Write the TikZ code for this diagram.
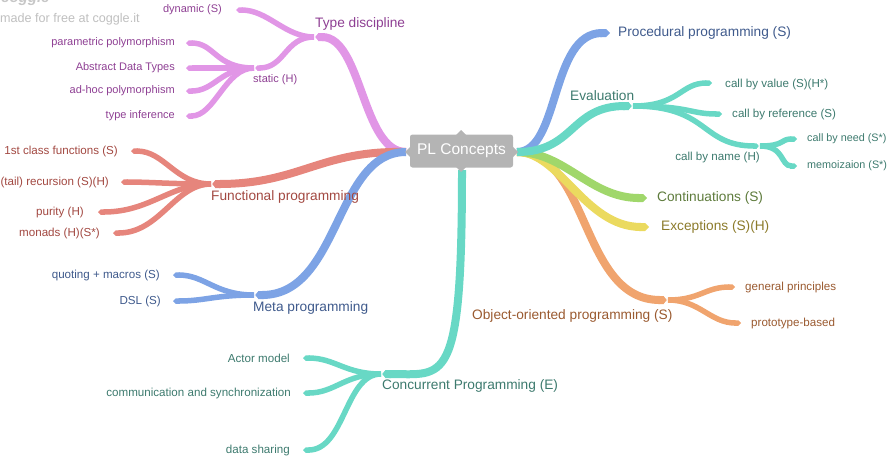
\documentclass[tikz,border=0pt]{standalone}
\usepackage{fontspec}
\setmainfont{Liberation Sans}
\usetikzlibrary{arrows.meta}
\definecolor{cPurple}{HTML}{E196E6}
\definecolor{tPurple}{HTML}{8E3F93}
\definecolor{cRed}{HTML}{E6857C}
\definecolor{tRed}{HTML}{A24841}
\definecolor{cBlue}{HTML}{7DA3E5}
\definecolor{tBlue}{HTML}{3F5A8C}
\definecolor{cTeal}{HTML}{68D8C5}
\definecolor{tTeal}{HTML}{3D7A6E}
\definecolor{cGreen}{HTML}{A0D76B}
\definecolor{tGreen}{HTML}{5E7B3C}
\definecolor{cYellow}{HTML}{EBDA5F}
\definecolor{tYellow}{HTML}{8C7B2B}
\definecolor{cOrange}{HTML}{F0A46E}
\definecolor{tOrange}{HTML}{9A5A30}
\definecolor{cGray}{HTML}{B4B4B4}
\begin{document}
\begin{tikzpicture}[x=1pt,y=-1pt,
  mainbr/.style={line width=8pt,-{Triangle Cap}},
  subbr/.style={line width=5.5pt,-{Triangle Cap}},
  mainlbl/.style={font=\fontsize{13.7}{15}\selectfont, inner sep=0pt},
  sublbl/.style={font=\fontsize{11.6}{13}\selectfont, inner sep=0pt},
  smalllbl/.style={font=\fontsize{11}{13}\selectfont, inner sep=0pt},
  tinylbl/.style={font=\fontsize{10.8}{12}\selectfont, inner sep=0pt},
  notchmark/.style={draw=white, line width=0.9pt},
]
\useasboundingbox (0,0) rectangle (890,456);

% watermark
\node[anchor=base west, text=black!22, font=\itshape\bfseries\fontsize{15}{16}\selectfont, inner sep=0pt] (logo) at (1,2) {coggle};
\node[anchor=west, text=black!25, font=\fontsize{12.6}{14}\selectfont, inner sep=0pt] (wm) at (0,19) {made for free at coggle.it};

% anchor coordinates
\coordinate (pW) at (406,152);
\coordinate (pE) at (517,152);
\coordinate (pS) at (462,170);

\coordinate (tdE) at (314,37);
\coordinate (stE) at (254,68);
\coordinate (fpE) at (211,184);
\coordinate (mpE) at (254,295);
\coordinate (cpE) at (381,374);
\coordinate (ppE) at (610,33);
\coordinate (evE) at (633,106);
\coordinate (cnE) at (760,146);
\coordinate (ooE) at (668,300);

% leaf end coordinates
\coordinate (l1) at (236,10);
\coordinate (l2) at (186,43);
\coordinate (l3) at (186,68);
\coordinate (l4) at (186,91);
\coordinate (l5) at (186,116);
\coordinate (l6) at (131,151);
\coordinate (l7) at (121,182);
\coordinate (l8) at (98,212);
\coordinate (l9) at (113,233);
\coordinate (l10) at (173,275);
\coordinate (l11) at (173,301);
\coordinate (l12) at (303,358);
\coordinate (l13) at (303,393);
\coordinate (l14) at (303,450);
\coordinate (r1) at (712,83);
\coordinate (r2) at (722,114);
\coordinate (r3) at (797,139);
\coordinate (r4) at (797,166);
\coordinate (r5) at (647,198);
\coordinate (r6) at (649,227);
\coordinate (r7) at (735,287);
\coordinate (r8) at (741,323);

% ---- left branches
\draw[mainbr,cPurple] (pW) .. controls (362,152) and (362,37) .. (tdE);
\draw[subbr,cPurple] (tdE) .. controls (285,37) and (268,10) .. (l1);
\draw[subbr,cPurple] (tdE) .. controls (285,37) and (285,68) .. (stE);
\draw[subbr,cPurple] (stE) .. controls (215,68) and (215,43) .. (l2);
\draw[subbr,cPurple] (stE) .. controls (215,68) and (215,68) .. (l3);
\draw[subbr,cPurple] (stE) .. controls (220,68) and (215,91) .. (l4);
\draw[subbr,cPurple] (stE) .. controls (225,68) and (215,116) .. (l5);

\draw[mainbr,cRed] (pW) .. controls (320,150) and (300,184) .. (fpE);
\draw[subbr,cRed] (fpE) .. controls (175,184) and (165,151) .. (l6);
\draw[subbr,cRed] (fpE) .. controls (170,184) and (150,182) .. (l7);
\draw[subbr,cRed] (fpE) .. controls (170,184) and (150,212) .. (l8);
\draw[subbr,cRed] (fpE) .. controls (175,184) and (160,233) .. (l9);

\draw[mainbr,cBlue] (pW) .. controls (335,152) and (340,295) .. (mpE);
\draw[subbr,cBlue] (mpE) .. controls (215,295) and (205,275) .. (l10);
\draw[subbr,cBlue] (mpE) .. controls (215,295) and (205,301) .. (l11);

\draw[mainbr,cTeal] (pS) .. controls (462,390) and (445,374) .. (cpE);
\draw[subbr,cTeal] (cpE) .. controls (345,374) and (335,358) .. (l12);
\draw[subbr,cTeal] (cpE) .. controls (345,374) and (335,393) .. (l13);
\draw[subbr,cTeal] (cpE) .. controls (345,374) and (345,450) .. (l14);

% ---- right branches
\draw[mainbr,cOrange] (pE) .. controls (590,152) and (580,300) .. (ooE);
\draw[subbr,cOrange] (ooE) .. controls (700,300) and (705,287) .. (r7);
\draw[subbr,cOrange] (ooE) .. controls (700,300) and (710,323) .. (r8);
\draw[mainbr,cYellow] (pE) .. controls (560,152) and (585,227) .. (r6);
\draw[mainbr,cGreen] (pE) .. controls (565,152) and (590,198) .. (r5);
\draw[mainbr,cBlue] (pE) .. controls (560,152) and (550,33) .. (ppE);
\draw[mainbr,cTeal] (pE) .. controls (575,152) and (570,106) .. (evE);
\draw[subbr,cTeal] (evE) .. controls (680,106) and (680,83) .. (r1);
\draw[subbr,cTeal] (evE) .. controls (690,106) and (690,114) .. (r2);
\draw[subbr,cTeal] (evE) .. controls (710,106) and (700,146) .. (cnE);
\draw[subbr,cTeal] (cnE) .. controls (785,146) and (780,139) .. (r3);
\draw[subbr,cTeal] (cnE) .. controls (785,146) and (780,166) .. (r4);

% ---- junction notches
\foreach \j in {tdE,stE,fpE,mpE,cpE} {
  \draw[notchmark] ([shift={(4,-4.5)}]\j) -- ([shift={(0.5,0)}]\j) -- ([shift={(4,4.5)}]\j);
}
\foreach \j in {evE,cnE,ooE} {
  \draw[notchmark] ([shift={(-4,-4.5)}]\j) -- ([shift={(-0.5,0)}]\j) -- ([shift={(-4,4.5)}]\j);
}

% ---- central node
\fill[cGray] (455,136) -- (461,130) -- (467,136) -- cycle;
\fill[cGray] (455,166) -- (461,172) -- (467,166) -- cycle;
\fill[cGray] (411,146) -- (405,152) -- (411,158) -- cycle;
\fill[cGray] (512,146) -- (518,152) -- (512,158) -- cycle;
\node[fill=cGray, rounded corners=2.5pt, text=white, font=\fontsize{15.5}{17}\selectfont,
      minimum width=103pt, minimum height=33pt, inner sep=0pt] (pl) at (461.5,151) {PL Concepts};

% ---- labels
\node[mainlbl, text=tPurple, anchor=west] (td) at (315,24) {Type discipline};
\node[smalllbl, text=tPurple, anchor=east] (dyn) at (222,10) {dynamic (S)};
\node[smalllbl, text=tPurple, anchor=west] (st) at (253,80) {static (H)};
\node[smalllbl, text=tPurple, anchor=east] (par) at (175,43) {parametric polymorphism};
\node[smalllbl, text=tPurple, anchor=east] (adt) at (175,68) {Abstract Data Types};
\node[smalllbl, text=tPurple, anchor=east] (adh) at (175,91) {ad-hoc polymorphism};
\node[smalllbl, text=tPurple, anchor=east] (ti) at (175,116) {type inference};

\node[mainlbl, text=tRed, anchor=west] (fp) at (211,197) {Functional programming};
\node[sublbl, text=tRed, anchor=east] (fc) at (118,151) {1st class functions (S)};
\node[sublbl, text=tRed, anchor=east] (tr) at (109,182) {(tail) recursion (S)(H)};
\node[sublbl, text=tRed, anchor=east] (pu) at (84,212) {purity (H)};
\node[sublbl, text=tRed, anchor=east] (mo) at (100,233) {monads (H)(S*)};

\node[mainlbl, text=tBlue, anchor=west] (mp) at (253,308) {Meta programming};
\node[sublbl, text=tBlue, anchor=east] (qm) at (160,275) {quoting + macros (S)};
\node[sublbl, text=tBlue, anchor=east] (dsl) at (161,301) {DSL (S)};

\node[mainlbl, text=tTeal, anchor=west] (cp) at (382,386) {Concurrent Programming (E)};
\node[sublbl, text=tTeal, anchor=east] (am) at (290,358) {Actor model};
\node[sublbl, text=tTeal, anchor=east] (cs) at (291,393) {communication and synchronization};
\node[sublbl, text=tTeal, anchor=east] (ds) at (290,450) {data sharing};

\node[mainlbl, text=tBlue, anchor=west] (pp) at (618,33) {Procedural programming (S)};
\node[mainlbl, text=tTeal, anchor=west] (ev) at (570,96) {Evaluation};
\node[sublbl, text=tTeal, anchor=west] (cbv) at (725,84) {call by value (S)(H*)};
\node[sublbl, text=tTeal, anchor=west] (cbr) at (732,114) {call by reference (S)};
\node[sublbl, text=tTeal, anchor=east] (cbn) at (760,157) {call by name (H)};
\node[tinylbl, text=tTeal, anchor=west] (cbd) at (807,139) {call by need (S*)};
\node[tinylbl, text=tTeal, anchor=west] (mem) at (807,166) {memoizaion (S*)};
\node[mainlbl, text=tGreen, anchor=west] (co) at (657,198) {Continuations (S)};
\node[mainlbl, text=tYellow, anchor=west] (ex) at (661,227) {Exceptions (S)(H)};
\node[mainlbl, text=tOrange, anchor=west] (oo) at (472,316) {Object-oriented programming (S)};
\node[sublbl, text=tOrange, anchor=west] (gp) at (745,287) {general principles};
\node[sublbl, text=tOrange, anchor=west] (pb) at (751,323) {prototype-based};
\end{tikzpicture}
\end{document}
